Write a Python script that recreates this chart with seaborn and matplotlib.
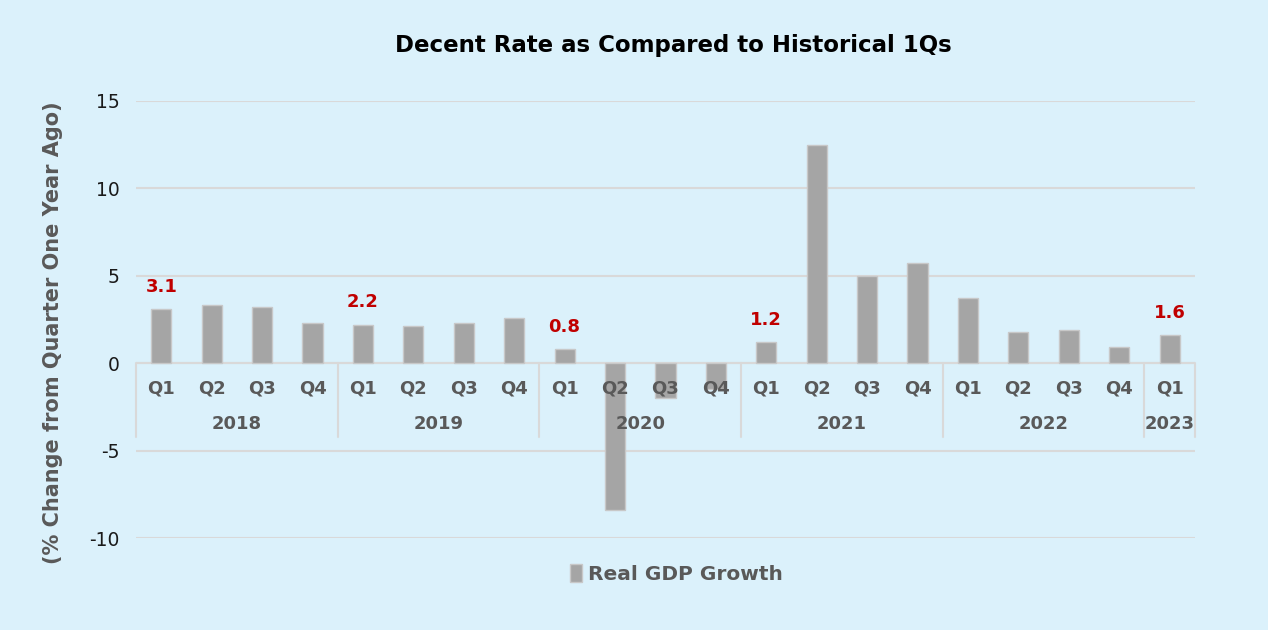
import pandas as pd
import seaborn as sns
import matplotlib
matplotlib.use("Agg")
import matplotlib.pyplot as plt

# Chart data
years = ["2018", "2019", "2020", "2021", "2022", "2023"]
quarters_per_year = [4, 4, 4, 4, 4, 1]
quarters = ["Q1", "Q2", "Q3", "Q4"] * 5 + ["Q1"]
gdp_growth = [3.1, 3.3, 3.2, 2.3,
              2.2, 2.1, 2.3, 2.6,
              0.8, -8.4, -2.0, -1.5,
              1.2, 12.5, 5.0, 5.7,
              3.7, 1.8, 1.9, 0.9,
              1.6]
labelled_periods = ["2018 Q1", "2019 Q1", "2020 Q1", "2021 Q1", "2023 Q1"]
series_name = "Real GDP Growth"

# Build a frame with one row per quarter
year_col = [y for y, n in zip(years, quarters_per_year) for _ in range(n)]
df = pd.DataFrame({"year": year_col, "quarter": quarters, "value": gdp_growth})
df["period"] = df["year"] + " " + df["quarter"]
df["series"] = series_name

bg = "#DBF1FB"
grid_col = "#D9D9D9"
text_gray = "#595959"

sns.set_theme(style="white")
plt.rcParams["font.family"] = ["DejaVu Sans"]

fig = plt.figure(figsize=(12.68, 6.3), dpi=100, facecolor=bg)
ax = fig.add_axes([0.1073, 0.146, 0.835, 0.694])
ax.set_facecolor(bg)

sns.barplot(data=df, x="period", y="value", hue="series", order=df["period"],
            palette=["#A5A5A5"], width=0.4, dodge=False, edgecolor="#C8C8C8",
            linewidth=1, ax=ax, zorder=3)

ax.set_xlim(-0.5, len(df) - 0.5)
ax.set_ylim(-10, 15)
ax.set_yticks([-10, -5, 0, 5, 10, 15])
ax.set_yticklabels(["-10", "-5", "0", "5", "10", "15"], fontsize=13.5, color="#1a1a1a")
ax.tick_params(axis="y", length=0, pad=12)
ax.set_xticks([])
ax.set_xlabel("")
ax.grid(axis="y", color=grid_col, linewidth=1.5, zorder=0)
ax.set_axisbelow(True)
for s in ax.spines.values():
    s.set_visible(False)
ax.axhline(0, color=grid_col, linewidth=1.5, zorder=2)

# Two-level category axis: quarters, then years with dividers
for i, q in enumerate(df["quarter"]):
    ax.text(i, -1.45, q, ha="center", va="center", fontsize=13,
            fontweight="bold", color=text_gray, zorder=5)
start = 0
bounds = [-0.5]
for y, n in zip(years, quarters_per_year):
    mid = start + (n - 1) / 2
    ax.text(mid, -3.5, y, ha="center", va="center", fontsize=13,
            fontweight="bold", color=text_gray, zorder=5)
    start += n
    bounds.append(start - 0.5)
for b in bounds:
    ax.plot([b, b], [0, -4.2], color=grid_col, linewidth=1.5, zorder=2,
            clip_on=False)

# Red labels on selected first quarters
for i, (p, v) in enumerate(zip(df["period"], df["value"])):
    if p in labelled_periods:
        ax.annotate(f"{v:.1f}", (i, v), xytext=(0, 16), textcoords="offset points",
                    ha="center", va="center", fontsize=13, fontweight="bold",
                    color="#C00000")

ax.set_ylabel("(% Change from Quarter One Year Ago)", fontsize=15,
              fontweight="bold", color=text_gray, labelpad=8)
ax.yaxis.set_label_coords(-0.069, 0.47)

fig.text(0.531, 0.928, "Decent Rate as Compared to Historical 1Qs",
         ha="center", va="center", fontsize=16.5, fontweight="bold", color="black")

sns.move_legend(ax, loc="center", bbox_to_anchor=(0.51, -0.082), frameon=False,
                title=None, fontsize=14.5, handlelength=0.6, handleheight=1.0,
                handletextpad=0.3)
for t in ax.get_legend().get_texts():
    t.set_fontweight("bold")
    t.set_color(text_gray)

fig.savefig("out.png", dpi=100, facecolor=bg)
